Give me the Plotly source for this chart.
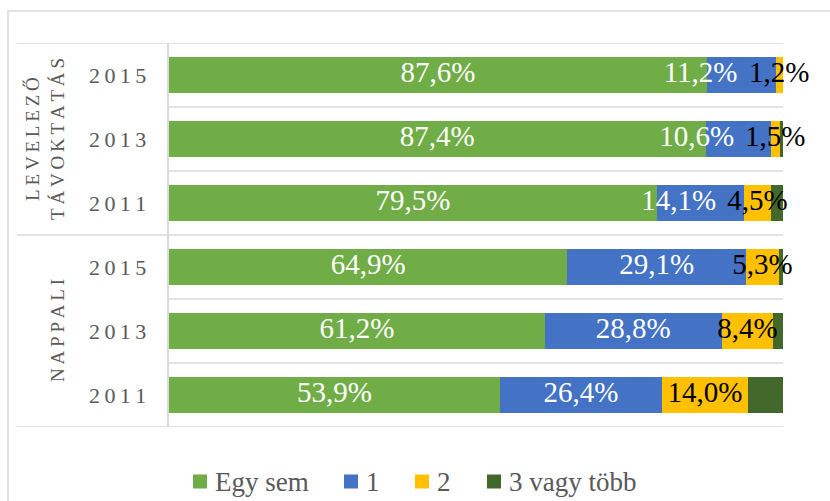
import plotly.graph_objects as go

# ---- data ----
groups = ["LEVELEZŐ<br>TÁVOKTATÁS", "NAPPALI"]
years = ["2015", "2013", "2011", "2015", "2013", "2011"]  # top to bottom
row_group = [0, 0, 0, 1, 1, 1]
series_names = ["Egy sem", "1", "2", "3 vagy több"]
egy_sem = [87.6, 87.4, 79.5, 64.9, 61.2, 53.9]
egy = [11.2, 10.6, 14.1, 29.1, 28.8, 26.4]
ketto = [1.2, 1.5, 4.5, 5.3, 8.4, 14.0]
harom = [0.0, 0.5, 1.9, 0.7, 1.6, 5.7]
series_values = [egy_sem, egy, ketto, harom]
labelled = [True, True, True, False]

colors = ["#70AD47", "#4472C4", "#FFC000", "#43682B"]
label_colors = ["#FFFFFF", "#FFFFFF", "#000000", None]
GRAY = "#595959"
GRID = "#D9D9D9"
FONT = "Liberation Serif"

W, H = 830, 501
L, R, T, B = 169, 783, 43, 427
pw, ph = R - L, B - T

def px_x(p):
    return (p - L) / pw

def px_y(p):
    return (B - p) / ph

n = len(years)
ypos = [n - 1 - i for i in range(n)]  # top row highest

def fmt(v):
    return f"{v:.1f}".replace(".", ",") + "%"

LABEL_SIZE = 29

def text_width_pct(s):
    em = 0
    for ch in s:
        if ch.isdigit():
            em += 0.5
        elif ch == ",":
            em += 0.25
        elif ch == "%":
            em += 0.833
    return em * LABEL_SIZE / pw * 100

fig = go.Figure()
for k, (name, vals) in enumerate(zip(series_names, series_values)):
    fig.add_trace(go.Bar(
        name=name, x=vals, y=ypos, orientation="h",
        marker=dict(color=colors[k], line=dict(width=0)),
        width=0.55, hoverinfo="skip", showlegend=False,
    ))

# label positions: segment centres, shifted left to avoid overlap (Excel-like)
cum = [[0.0] * n]
for vals in series_values:
    cum.append([c + v for c, v in zip(cum[-1], vals)])
centers = [[(cum[k][i] + cum[k + 1][i]) / 2 for i in range(n)] for k in range(len(series_values))]
label_x = [list(c) for c in centers]
gap = 1.8
for i in range(n):
    for k in range(1, -1, -1):
        a, b = fmt(series_values[k][i]), fmt(series_values[k + 1][i])
        limit = label_x[k + 1][i] - text_width_pct(b) / 2 - gap - text_width_pct(a) / 2
        if label_x[k][i] > limit:
            label_x[k][i] = limit

for k, vals in enumerate(series_values):
    if not labelled[k]:
        continue
    fig.add_trace(go.Scatter(
        x=label_x[k], y=ypos, mode="text",
        text=[fmt(v) for v in vals],
        textfont=dict(family=FONT, size=LABEL_SIZE, color=label_colors[k]),
        showlegend=False, hoverinfo="skip", cliponaxis=False,
    ))

shapes = []
# outer chart border
shapes.append(dict(type="rect", xref="paper", yref="paper",
                   x0=px_x(8), x1=px_x(840), y0=px_y(11), y1=px_y(520),
                   line=dict(color=GRID, width=1.5), fillcolor="rgba(0,0,0,0)", layer="below"))
# row separators
for j in range(1, n):
    yb = n - 1 - j + 0.5
    if row_group[j] != row_group[j - 1]:
        continue
    shapes.append(dict(type="line", xref="paper", yref="y", x0=0, x1=1, y0=yb, y1=yb,
                       line=dict(color=GRID, width=1.5), layer="below"))
# group separators
bounds = [n - 0.5]
for j in range(1, n):
    if row_group[j] != row_group[j - 1]:
        bounds.append(n - 1 - j + 0.5)
bounds.append(-0.5)
for yb in bounds:
    shapes.append(dict(type="line", xref="paper", yref="y", x0=px_x(17), x1=1, y0=yb, y1=yb,
                       line=dict(color=GRID, width=1.5), layer="below"))

ann = []
sp = "\u2009"
for i, yr in enumerate(years):
    ann.append(dict(xref="paper", yref="y", x=px_x(148), y=ypos[i], xanchor="right",
                    yanchor="middle", showarrow=False, text=sp.join(yr),
                    font=dict(family=FONT, size=22, color=GRAY)))
for g, gname in enumerate(groups):
    rows = [ypos[i] for i in range(n) if row_group[i] == g]
    yc = sum(rows) / len(rows)
    lines = gname.split("<br>")
    txt = "<br>".join(sp.join(line) for line in lines)
    ann.append(dict(xref="paper", yref="y", x=px_x(45 if len(lines) > 1 else 57), y=yc,
                    xanchor="center", yanchor="middle", showarrow=False, textangle=-90,
                    text=txt, font=dict(family=FONT, size=19, color=GRAY)))

# manual legend (Excel-style spacing)
legend_square_px = [193, 344, 415, 487]
LEG_Y = 481.5
SQ = 14
for k, name in enumerate(series_names):
    x0 = legend_square_px[k]
    shapes.append(dict(type="rect", xref="paper", yref="paper",
                       x0=px_x(x0), x1=px_x(x0 + SQ),
                       y0=px_y(LEG_Y + SQ / 2), y1=px_y(LEG_Y - SQ / 2),
                       fillcolor=colors[k], line=dict(width=0)))
    ann.append(dict(xref="paper", yref="paper", x=px_x(x0 + SQ + 6), y=px_y(LEG_Y),
                    xanchor="left", yanchor="middle", showarrow=False, text=name,
                    font=dict(family=FONT, size=27, color=GRAY)))

fig.update_layout(
    width=W, height=H, barmode="stack",
    margin=dict(l=L, r=W - R, t=T, b=H - B, pad=0),
    paper_bgcolor="white", plot_bgcolor="white",
    xaxis=dict(range=[0, 100], visible=False, fixedrange=True),
    yaxis=dict(range=[-0.5, n - 0.5], showticklabels=False, showgrid=False, zeroline=False,
               showline=True, linecolor=GRID, linewidth=1.5, ticks="", fixedrange=True),
    showlegend=False,
    shapes=shapes, annotations=ann, hovermode=False,
)

fig.write_html("out.html", config={"displayModeBar": False},
               post_script="document.body.style.margin='0';document.body.style.overflow='hidden';")
